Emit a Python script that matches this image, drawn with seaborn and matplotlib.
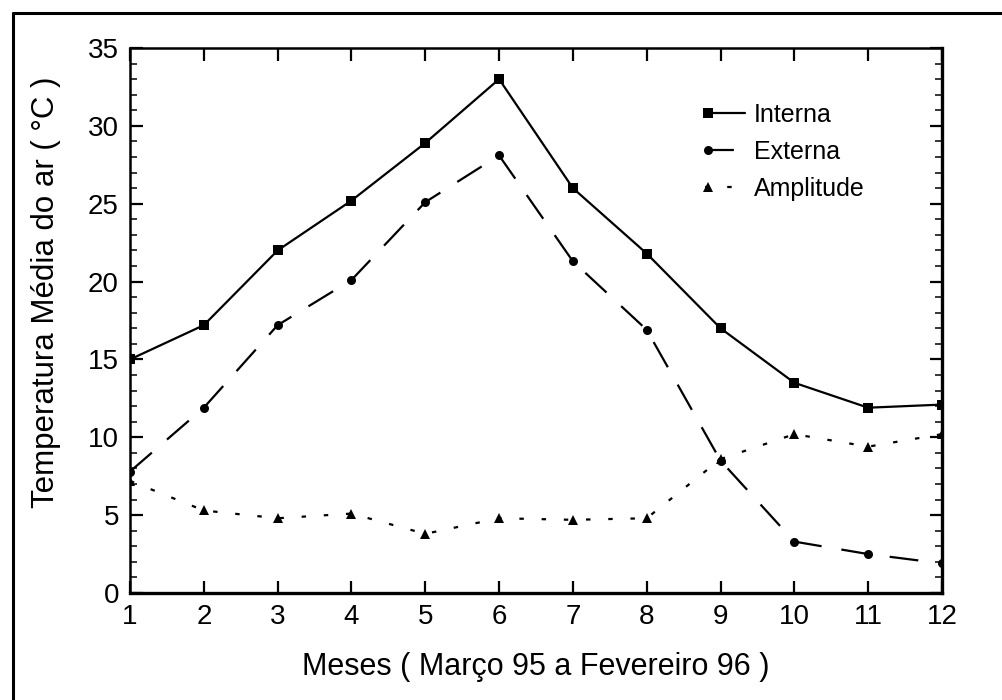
import matplotlib
matplotlib.use("Agg")
import matplotlib.pyplot as plt
from matplotlib.lines import Line2D
from matplotlib.legend_handler import HandlerBase
from matplotlib.ticker import MultipleLocator
import seaborn as sns
import pandas as pd

# Monthly mean air temperature, March 1995 to February 1996
meses = [1, 2, 3, 4, 5, 6, 7, 8, 9, 10, 11, 12]
interna = [15.0, 17.2, 22.0, 25.2, 28.9, 33.0, 26.0, 21.8, 17.0, 13.5, 11.9, 12.1]
externa = [7.8, 11.9, 17.2, 20.1, 25.1, 28.1, 21.3, 16.9, 8.5, 3.3, 2.5, 1.9]
amplitude = [7.2, 5.3, 4.8, 5.1, 3.8, 4.8, 4.7, 4.8, 8.6, 10.2, 9.4, 10.2]

sns.set_theme(style="ticks")
plt.rcParams["font.family"] = ["Liberation Sans", "DejaVu Sans"]


class MarkerAtStart(HandlerBase):
    """Legend handle: the marker sits at the left end of the line sample."""

    def create_artists(self, legend, orig_handle, xdescent, ydescent,
                       width, height, fontsize, trans):
        y = height / 2 - ydescent
        line = Line2D([-xdescent, width - xdescent], [y, y])
        self.update_prop(line, orig_handle, legend)
        line.set_marker("")
        mk = Line2D([-xdescent + 2], [y])
        self.update_prop(mk, orig_handle, legend)
        mk.set_linestyle("")
        line.set_transform(trans)
        mk.set_transform(trans)
        return [line, mk]


fig = plt.figure(figsize=(10.03, 7.0), dpi=100)
ax = fig.add_axes([130 / 1003, 1 - 593 / 700, (942 - 130) / 1003, (593 - 48) / 700])

# Outer frame (left and top edges of the figure border)
fx, fy = 13 / 1003, 1 - 13 / 700
fig.add_artist(Line2D([fx, fx], [-0.01, fy], transform=fig.transFigure,
                      color="black", linewidth=2.2))
fig.add_artist(Line2D([fx, 1.01], [fy, fy], transform=fig.transFigure,
                      color="black", linewidth=2.2))

df = pd.DataFrame({"mes": meses, "Interna": interna, "Externa": externa,
                   "Amplitude": amplitude})

sns.lineplot(data=df, x="mes", y="Interna", ax=ax, color="black", linewidth=1.6,
             marker="s", markersize=7, markeredgewidth=0, label="Interna")
sns.lineplot(data=df, x="mes", y="Externa", ax=ax, color="black", linewidth=1.6,
             marker="o", markersize=6.5, markeredgewidth=0, label="Externa",
             dashes=(13, 9))
sns.lineplot(data=df, x="mes", y="Amplitude", ax=ax, color="black", linewidth=1.6,
             marker="^", markersize=7.5, markeredgewidth=0, label="Amplitude",
             dashes=(2, 8))

ax.set_xlim(1, 12)
ax.set_ylim(0, 35)
ax.set_xticks(meses)
ax.yaxis.set_major_locator(MultipleLocator(5))
ax.yaxis.set_minor_locator(MultipleLocator(1))

ax.tick_params(axis="both", which="major", direction="in", length=9, width=1.6,
               top=True, right=True, labelsize=20, colors="black", pad=8)
ax.tick_params(axis="y", which="minor", direction="in", length=5, width=1.3,
               left=True, right=True)
for side in ["left", "top"]:
    ax.spines[side].set_linewidth(1.8)
for side in ["right", "bottom"]:
    ax.spines[side].set_linewidth(2.4)
for s in ax.spines.values():
    s.set_color("black")

ax.set_xlabel("Meses ( Março 95 a Fevereiro 96 )", fontsize=22, labelpad=16,
              color="black")
ax.set_ylabel("Temperatura Média do ar ( °C )", fontsize=22.5, color="black")
ax.yaxis.set_label_coords(-0.085, 0.552)

handles, labels = ax.get_legend_handles_labels()
leg = ax.legend(handles, labels, loc="upper left",
                bbox_to_anchor=((705 - 130) / 812, (593 - 103) / 545),
                frameon=False, fontsize=18, borderpad=0, borderaxespad=0,
                handlelength=1.6, handletextpad=0.35, labelspacing=0.52,
                handler_map={Line2D: MarkerAtStart()})
for t in leg.get_texts():
    t.set_color("black")

fig.savefig("out.png", dpi=100)
